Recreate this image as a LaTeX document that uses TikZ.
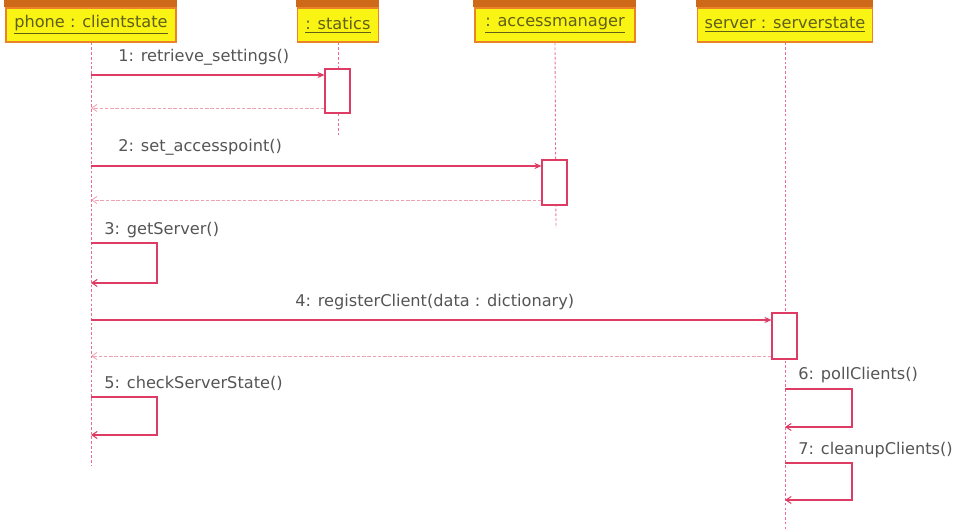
\documentclass[tikz,border=0pt]{standalone}
\usepackage{fontspec}
\setmainfont{DejaVu Sans}
\usetikzlibrary{arrows.meta,calc}

\definecolor{lifered}{RGB}{222,60,100}
\definecolor{linepink}{RGB}{235,110,145}
\definecolor{retpink}{RGB}{242,160,180}
\definecolor{hdrfill}{RGB}{250,244,20}
\definecolor{hdredge}{RGB}{236,130,40}
\definecolor{hdrtop}{RGB}{205,105,25}
\definecolor{hdrtext}{RGB}{95,95,25}
\definecolor{msgtext}{RGB}{85,85,85}

\begin{document}
\begin{tikzpicture}[x=0.02cm, y=-0.02cm,
    object/.style={draw=hdredge, fill=hdrfill, line width=0.8pt, minimum height=0.68cm, inner sep=0pt, text=hdrtext, font=\fontsize{9.2}{11}\selectfont},
    lifeline/.style={draw=linepink, dash pattern=on 1.5pt off 1.2pt, line width=0.5pt},
    actbox/.style={draw=lifered, fill=white, line width=0.6pt, minimum width=0.5cm, inner sep=0pt},
    call/.style={draw=lifered, line width=0.6pt, -{Stealth[length=4pt,width=3.5pt]}},
    selfcall/.style={draw=lifered, line width=0.6pt, -{Straight Barb[length=3pt,width=4pt]}},
    reply/.style={draw=retpink, dash pattern=on 2pt off 1pt, line width=0.5pt, -{Straight Barb[length=3pt,width=4pt]}},
    msg/.style={anchor=west, text=msgtext, font=\fontsize{9.2}{11}\selectfont, inner sep=0pt}]
    \useasboundingbox (0,0) rectangle (958,530);
    % Objects
    \node[object, minimum width=3.4cm] (phone) at (91,25) {\underline{phone : clientstate}};
    \node[object, minimum width=1.62cm] (statics) at (338,25) {\underline{: statics}};
    \node[object, minimum width=3.2cm] (access) at (555,25) {\underline{: accessmanager}};
    \node[object, minimum width=3.5cm] (server) at (785,25) {\underline{server : serverstate}};
    \foreach \o in {phone,statics,access,server}
        \fill[hdrtop] ($(\o.north west)+(-1,-8)$) rectangle (\o.north east);
    % Lifelines
    \coordinate (phoneEnd) at (91,465);
    \coordinate (staticsEnd) at (338,135);
    \coordinate (accessEnd) at (556,228);
    \coordinate (serverEnd) at (785,530);
    \draw[lifeline] (phone.south) -- (phoneEnd);
    \draw[lifeline] (statics.south) -- (staticsEnd);
    \draw[lifeline] (access.south) -- (accessEnd);
    \draw[lifeline] (server.south) -- (serverEnd);
    % Activations
    \node[actbox, minimum height=0.88cm] (actStatics) at (337.5,91) {};
    \node[actbox, minimum height=0.9cm] (actAccess) at (554.5,182.5) {};
    \node[actbox, minimum height=0.92cm] (actServer) at (784.5,336) {};
    % 1: retrieve_settings
    \coordinate (c1) at (91,75);
    \coordinate (r1) at (91,108);
    \node[msg] (m1) at (118,57) {1: retrieve\_settings()};
    \draw[call] (c1) -- (c1 -| actStatics.west);
    \draw[reply] (r1 -| actStatics.west) -- (r1);
    % 2: set_accesspoint
    \coordinate (c2) at (91,166);
    \coordinate (r2) at (91,200);
    \node[msg] (m2) at (118,147) {2: set\_accesspoint()};
    \draw[call] (c2) -- (c2 -| actAccess.west);
    \draw[reply] (r2 -| actAccess.west) -- (r2);
    % 3: getServer
    \coordinate (s3) at (91,243);
    \coordinate (e3) at (91,283);
    \node[msg] (m3) at (104,230) {3: getServer()};
    \draw[selfcall] (s3) -- ++(66,0) |- (e3);
    % 4: registerClient
    \coordinate (c4) at (91,320);
    \coordinate (r4) at (91,356);
    \node[msg] (m4) at (295,302) {4: registerClient(data : dictionary)};
    \draw[call] (c4) -- (c4 -| actServer.west);
    \draw[reply] (r4 -| actServer.west) -- (r4);
    % 5: checkServerState
    \coordinate (s5) at (91,397);
    \coordinate (e5) at (91,435);
    \node[msg] (m5) at (104,383) {5: checkServerState()};
    \draw[selfcall] (s5) -- ++(66,0) |- (e5);
    % 6: pollClients
    \coordinate (s6) at (785,389);
    \coordinate (e6) at (785,427);
    \node[msg] (m6) at (798,375) {6: pollClients()};
    \draw[selfcall] (s6) -- ++(67,0) |- (e6);
    % 7: cleanupClients
    \coordinate (s7) at (785,463);
    \coordinate (e7) at (785,500);
    \node[msg] (m7) at (798,450) {7: cleanupClients()};
    \draw[selfcall] (s7) -- ++(67,0) |- (e7);
\end{tikzpicture}
\end{document}
